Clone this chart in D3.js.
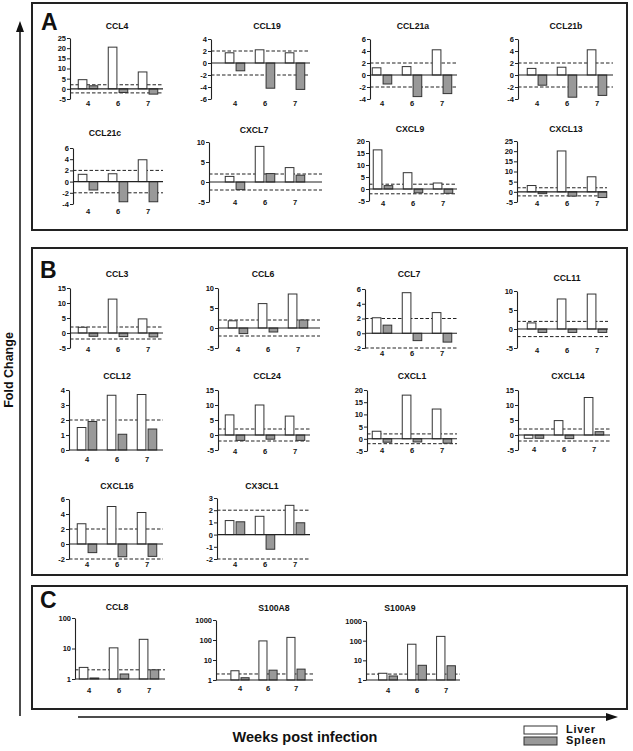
<!DOCTYPE html>
<html>
<head>
<meta charset="utf-8">
<script src="https://cdn.jsdelivr.net/npm/d3@7"></script>
<style>
body { margin: 0; background: #fff; }
svg { font-family: "Liberation Sans", Arial, sans-serif; font-weight: bold; }
</style>
</head>
<body>
<div id="chart"></div>
<script>
const width = 633;
const height = 751;

// data
const weeks = ["4", "6", "7"];
const tissues = ["Liver", "Spleen"];
const genes = ["CCL4", "CCL19", "CCL21a", "CCL21b", "CCL21c", "CXCL7", "CXCL9", "CXCL13",
    "CCL3", "CCL6", "CCL7", "CCL11", "CCL12", "CCL24", "CXCL1", "CXCL14", "CXCL16", "CX3CL1",
    "CCL8", "S100A8", "S100A9"];
const liver = [
    [4.5, 20.5, 8.3], [1.7, 2.2, 1.7], [1.2, 1.4, 4.2], [1.1, 1.3, 4.2],
    [1.3, 1.4, 3.9], [1.4, 8.9, 3.6], [16.3, 6.8, 2.5], [3.1, 20.1, 7.4],
    [1.9, 11.3, 4.7], [1.8, 6.1, 8.5], [2.1, 5.5, 2.8], [1.6, 7.9, 9.2],
    [1.5, 3.65, 3.7], [6.7, 10.0, 6.3], [3.1, 17.9, 12.2], [-1.1, 4.8, 12.5],
    [2.7, 5.0, 4.2], [1.15, 1.5, 2.4],
    [2.4, 10.5, 20], [2.9, 90, 135], [2.2, 66, 165]
];
const spleen = [
    [1.5, -1.8, -2.6], [-1.3, -4.2, -4.4], [-1.5, -3.6, -3.1], [-1.7, -3.7, -3.4],
    [-1.5, -3.6, -3.6], [-1.9, 2.1, 1.7], [1.4, -1.6, -1.8], [-0.9, -2.1, -2.8],
    [-1.1, -1.2, -1.3], [-1.4, -1.0, 2.0], [1.1, -1.0, -1.2], [-0.9, -0.9, -0.9],
    [1.9, 1.05, 1.4], [-1.8, -1.4, -1.8], [-1.4, -1.3, -1.8], [-1.1, -1.2, 1.1],
    [-1.15, -1.7, -1.65], [1.05, -1.2, 0.97],
    [1.08, 1.46, 2.0], [1.3, 3.1, 3.5], [1.6, 5.6, 5.3]
];
const yMin = [-5, -6, -4, -4, -4, -5, -5, -5, -5, -5, -2, -5, 0, -5, -5, -5, -2, -2, 1, 1, 1];
const yMax = [25, 4, 6, 6, 6, 10, 20, 25, 15, 10, 6, 10, 4, 15, 20, 15, 6, 3, 100, 1000, 1000];
const yStep = [5, 2, 2, 2, 2, 5, 5, 5, 5, 5, 2, 5, 1, 5, 5, 5, 2, 1, 0, 0, 0];
const logGenes = ["CCL8", "S100A8", "S100A9"];
const cutoff = 2;
const panelLetters = ["A", "B", "C"];

// layout: axis x, first group centre, right end, top, bottom, title pos, label baseline
const layout = [
    {ax: 70, g0: 88, x1: 163, y0: 38, y1: 99, tx: 117, ty: 29, lx: 106},
    {ax: 211, g0: 235, x1: 310, y0: 39, y1: 99, tx: 267, ty: 29, lx: 106},
    {ax: 370, g0: 382, x1: 457, y0: 39, y1: 99, tx: 413, ty: 29, lx: 106},
    {ax: 518, g0: 537, x1: 613, y0: 39, y1: 99, tx: 566, ty: 29, lx: 106},
    {ax: 73, g0: 88, x1: 163, y0: 148, y1: 204, tx: 105, ty: 136, lx: 214},
    {ax: 209, g0: 235, x1: 322, y0: 142, y1: 202, tx: 254, ty: 133, lx: 205},
    {ax: 369, g0: 383, x1: 457, y0: 141, y1: 201, tx: 410, ty: 132, lx: 206},
    {ax: 517, g0: 537, x1: 607, y0: 141, y1: 202, tx: 566, ty: 132, lx: 206},
    {ax: 70, g0: 88, x1: 163, y0: 288, y1: 348, tx: 117, ty: 277, lx: 352},
    {ax: 218, g0: 238, x1: 320, y0: 288, y1: 348, tx: 263, ty: 277, lx: 352},
    {ax: 365, g0: 382, x1: 457, y0: 289, y1: 348, tx: 409, ty: 277, lx: 356},
    {ax: 517, g0: 537, x1: 608, y0: 291, y1: 348, tx: 567, ty: 281, lx: 353},
    {ax: 69, g0: 87, x1: 163, y0: 390, y1: 450, tx: 117, ty: 379, lx: 462},
    {ax: 218, g0: 235, x1: 310, y0: 390, y1: 450, tx: 267, ty: 379, lx: 454},
    {ax: 367, g0: 382, x1: 457, y0: 390, y1: 451, tx: 412, ty: 379, lx: 453},
    {ax: 518, g0: 534, x1: 610, y0: 390, y1: 450, tx: 568, ty: 379, lx: 452},
    {ax: 69, g0: 87, x1: 163, y0: 499, y1: 559, tx: 117, ty: 489, lx: 567},
    {ax: 217, g0: 235, x1: 310, y0: 498, y1: 559, tx: 262, ty: 489, lx: 567},
    {ax: 75, g0: 89, x1: 165, y0: 618, y1: 679, tx: 117, ty: 610, lx: 693},
    {ax: 216, g0: 240, x1: 313, y0: 620, y1: 680, tx: 274, ty: 611, lx: 691, step: 28},
    {ax: 366, g0: 388, x1: 460, y0: 621, y1: 680, tx: 400, ty: 611, lx: 693, step: 29}
];
const boxes = [
    {x: 32, y: 3, w: 595, h: 227, lx: 41, ly: 30},
    {x: 32, y: 248, w: 595, h: 327, lx: 40, ly: 278},
    {x: 32, y: 586, w: 595, h: 123, lx: 40, ly: 608}
];

const ink = "#222";
const fills = {Liver: "#ffffff", Spleen: "#999999"};

const svg = d3.select("#chart")
    .append("svg")
    .attr("width", width)
    .attr("height", height);

// panel frames and letters
boxes.forEach((b, i) => {
    svg.append("rect")
        .attr("x", b.x).attr("y", b.y)
        .attr("width", b.w).attr("height", b.h)
        .attr("fill", "none")
        .attr("stroke", ink)
        .attr("stroke-width", 2);
    svg.append("text")
        .attr("x", b.lx).attr("y", b.ly)
        .attr("font-size", 23)
        .attr("fill", "#111")
        .text(panelLetters[i]);
});

genes.forEach((gene, i) => {
    const L = layout[i];
    const isLog = logGenes.includes(gene);
    const step = L.step || 30;
    const g = svg.append("g");

    const y = isLog
        ? d3.scaleLog().domain([yMin[i], yMax[i]]).range([L.y1, L.y0])
        : d3.scaleLinear().domain([yMin[i], yMax[i]]).range([L.y1, L.y0]);

    const x0 = d3.scaleBand()
        .domain(weeks)
        .range([L.g0 - step / 2, L.g0 - step / 2 + 3 * step])
        .paddingInner(0.35)
        .paddingOuter(0.175);
    const x1 = d3.scaleBand()
        .domain(tissues)
        .range([0, x0.bandwidth()])
        .paddingInner(0.2);

    const base = isLog ? 1 : Math.max(0, yMin[i]);

    // threshold lines
    [cutoff, -cutoff]
        .filter((c) => c >= yMin[i] && c <= yMax[i] && (!isLog || c > 0))
        .forEach((c) => {
            g.append("line")
                .attr("x1", L.ax).attr("x2", L.x1)
                .attr("y1", y(c)).attr("y2", y(c))
                .attr("stroke", ink)
                .attr("stroke-width", 1)
                .attr("stroke-dasharray", "3.5,2");
        });

    // bars
    const rows = weeks.map((w, j) => ({week: w, Liver: liver[i][j], Spleen: spleen[i][j]}));
    g.selectAll("g.grp")
        .data(rows)
        .enter()
        .append("g")
        .attr("transform", (d) => `translate(${x0(d.week)},0)`)
        .selectAll("rect")
        .data((d) => tissues.map((t) => ({t: t, v: d[t]})))
        .enter()
        .append("rect")
        .attr("x", (d) => x1(d.t))
        .attr("width", x1.bandwidth())
        .attr("y", (d) => y(Math.max(d.v, base)))
        .attr("height", (d) => Math.abs(y(d.v) - y(base)))
        .attr("fill", (d) => fills[d.t])
        .attr("stroke", "#333")
        .attr("stroke-width", 1);

    // zero / baseline
    g.append("line")
        .attr("x1", L.ax).attr("x2", L.x1)
        .attr("y1", y(base)).attr("y2", y(base))
        .attr("stroke", ink)
        .attr("stroke-width", 1.1);

    // y axis
    const ticks = isLog
        ? d3.range(0, Math.round(Math.log10(yMax[i])) + 1).map((k) => Math.pow(10, k))
        : d3.range(yMin[i], yMax[i] + yStep[i] / 2, yStep[i]);
    const yAxis = d3.axisLeft(y)
        .tickValues(ticks)
        .tickSize(3)
        .tickSizeOuter(0)
        .tickPadding(1)
        .tickFormat((d) => String(d));
    const ag = g.append("g")
        .attr("transform", `translate(${L.ax},0)`)
        .call(yAxis);
    ag.select(".domain").attr("stroke", ink).attr("stroke-width", 1.1);
    ag.selectAll(".tick line").attr("stroke", ink);
    ag.selectAll(".tick text")
        .attr("font-size", 7.5)
        .attr("font-family", "Liberation Sans, Arial, sans-serif")
        .attr("font-weight", "bold")
        .attr("fill", "#111");

    // week labels
    g.selectAll("text.wk")
        .data(weeks)
        .enter()
        .append("text")
        .attr("class", "wk")
        .attr("x", (d) => x0(d) + x0.bandwidth() / 2)
        .attr("y", L.lx)
        .attr("text-anchor", "middle")
        .attr("font-size", 7.5)
        .attr("fill", "#111")
        .text((d) => d);

    // title
    g.append("text")
        .attr("x", L.tx).attr("y", L.ty)
        .attr("text-anchor", "middle")
        .attr("font-size", 8.7)
        .attr("fill", "#111")
        .text(gene);
});

// axis arrows
svg.append("line")
    .attr("x1", 20).attr("x2", 20)
    .attr("y1", 716).attr("y2", 30)
    .attr("stroke", "#111").attr("stroke-width", 1.5);
svg.append("path")
    .attr("d", d3.line()([[20, 21], [16, 32], [24, 32]]) + "Z")
    .attr("fill", "#111");
svg.append("line")
    .attr("x1", 78).attr("x2", 607)
    .attr("y1", 717).attr("y2", 717)
    .attr("stroke", "#111").attr("stroke-width", 1.5);
svg.append("path")
    .attr("d", d3.line()([[618, 717], [606, 713], [606, 721]]) + "Z")
    .attr("fill", "#111");

svg.append("text")
    .attr("transform", "translate(13,370) rotate(-90)")
    .attr("text-anchor", "middle")
    .attr("font-size", 12.5)
    .attr("fill", "#111")
    .text("Fold Change");

svg.append("text")
    .attr("x", 305).attr("y", 742)
    .attr("text-anchor", "middle")
    .attr("font-size", 14.5)
    .attr("fill", "#111")
    .text("Weeks post infection");

// legend
tissues.forEach((t, k) => {
    svg.append("rect")
        .attr("x", 524).attr("y", 726 + k * 11)
        .attr("width", 33).attr("height", 8)
        .attr("fill", fills[t])
        .attr("stroke", "#333")
        .attr("stroke-width", 1);
    svg.append("text")
        .attr("x", 566).attr("y", 733 + k * 11)
        .attr("font-size", 11)
        .attr("letter-spacing", 0.7)
        .attr("fill", "#111")
        .text(t);
});
</script>
</body>
</html>
